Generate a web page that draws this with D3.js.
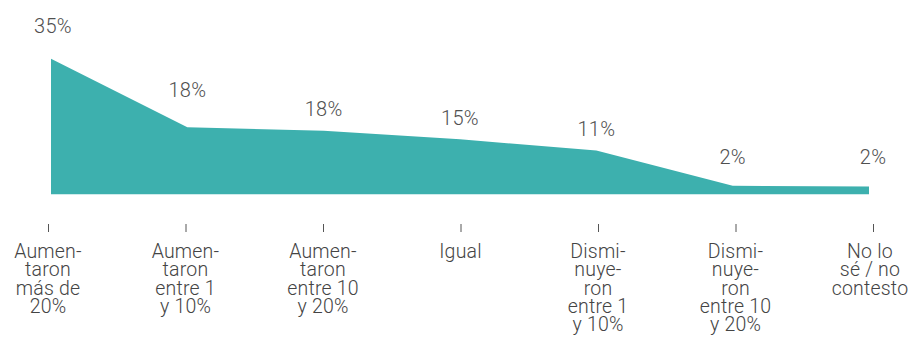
<!DOCTYPE html>
<html>
<head>
<meta charset="utf-8">
<script src="https://cdn.jsdelivr.net/npm/d3@7"></script>
<style>
  html, body { margin: 0; padding: 0; background: #fff; }
  svg { display: block; }
  text { font-family: Roboto, "Liberation Sans", Arial, sans-serif; font-weight: 300; }
</style>
</head>
<body>
<svg id="chart" width="910" height="338"></svg>
<script>
// ---- Data ----
const categories = [
  "Aumen-|taron|más de|20%",
  "Aumen-|taron|entre 1|y 10%",
  "Aumen-|taron|entre 10|y 20%",
  "Igual",
  "Dismi-|nuye-|ron|entre 1|y 10%",
  "Dismi-|nuye-|ron|entre 10|y 20%",
  "No lo|sé / no|contesto"
];
const values = [35, 17.3, 16.4, 14.2, 11.3, 2.2, 2.0];
const valueLabels = ["35%", "18%", "18%", "15%", "11%", "2%", "2%"];

// ---- Layout ----
const labelLift = [25.5, 30, 14.7, 14.3, 14.7, 21.7, 22.7];
const svg = d3.select("#chart");

const x = d3.scalePoint().domain(d3.range(categories.length)).range([51, 869]);
const xTick = d3.scalePoint().domain(d3.range(categories.length)).range([48, 873]);
const y = d3.scaleLinear().domain([0, 35]).range([194.3, 58.7]);

const area = d3.area()
  .x((d, i) => x(i))
  .y0(y(0))
  .y1(d => y(d));

svg.append("path")
  .datum(values)
  .attr("d", area)
  .attr("fill", "#3db0ae");

// value labels
svg.append("g").selectAll("text")
  .data(values)
  .join("text")
  .attr("x", (d, i) => i === categories.length - 1 ? xTick(i) : x(i) + (i === 0 ? 2 : 0))
  .attr("y", (d, i) => y(d) - labelLift[i])
  .attr("text-anchor", "middle")
  .attr("font-size", 20)
  .attr("letter-spacing", 0.3)
  .attr("fill", "#505050")
  .text((d, i) => valueLabels[i]);

// axis
const axis = d3.axisBottom(xTick)
  .tickSize(8)
  .tickFormat("");
const gAxis = svg.append("g")
  .attr("transform", "translate(0,224)")
  .call(axis);
gAxis.select(".domain").remove();
gAxis.selectAll(".tick line").attr("stroke", "#555").attr("stroke-width", 1);

// category labels
const catG = svg.append("g");
categories.forEach((c, i) => {
  const cx = xTick(i) - (i === categories.length - 1 ? 3 : 0);
  const t = catG.append("text")
    .attr("x", cx)
    .attr("y", 258)
    .attr("text-anchor", "middle")
    .attr("font-size", 19.5)
    .attr("letter-spacing", 0.2)
    .attr("fill", "#444");
  c.split("|").forEach((line, j) => {
    t.append("tspan")
      .attr("x", cx)
      .attr("dy", j === 0 ? 0 : 18.3)
      .text(line);
  });
});
</script>
</body>
</html>
